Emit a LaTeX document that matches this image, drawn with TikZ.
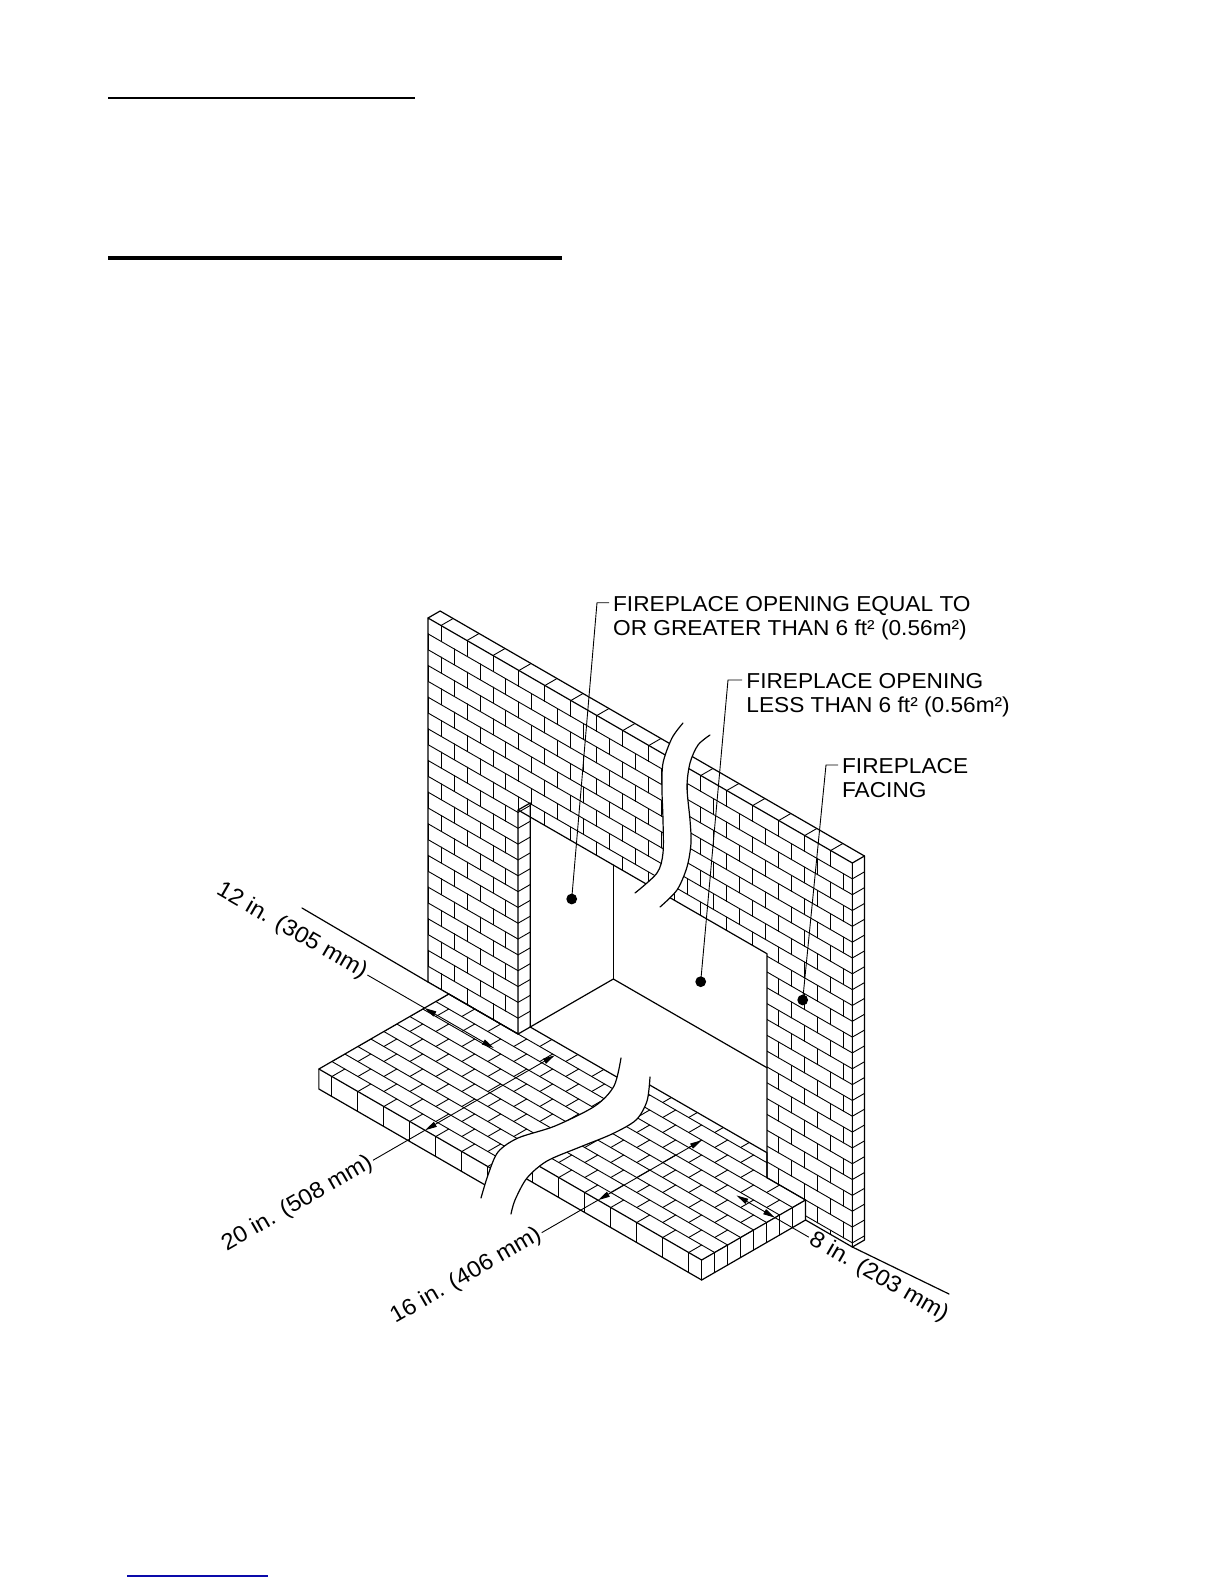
\documentclass[tikz,border=0pt]{standalone}
\usepackage{fontspec}
\setmainfont{Liberation Sans}
\newfontfamily\lblfont[FakeStretch=1.05]{Liberation Sans}
\usetikzlibrary{arrows.meta}
\definecolor{linkblue}{RGB}{10,10,170}
\begin{document}
\begin{tikzpicture}[x=0.5pt,y=-0.5pt,
  brick/.style={line width=0.45pt, line cap=round},
  outl/.style={line width=0.6pt, line join=round, line cap=round},
  leader/.style={line width=0.45pt},
  dimline/.style={line width=0.45pt},
  dimarrow/.style={>={Triangle[length=6pt,width=2.8pt]},<->},
  lbl/.style={font=\lblfont\fontsize{10.8}{12}\selectfont, inner sep=0pt},
  dimtext/.style={font=\lblfont\fontsize{11.4}{12}\selectfont, inner sep=1pt},
  leaderdot/.style={circle, fill=black, inner sep=0pt, minimum size=5.4pt},
  isoview/.style={x={(0.433pt,-0.25pt)}, y={(-0.433pt,-0.25pt)}, z={(0pt,0.5pt)}}
]
\useasboundingbox (0,0) rectangle (1224,1584);

% page rules
\draw[line width=1.3pt] (108,98) -- (415,98);
\draw[line width=1.9pt] (108,258) -- (562,258);
\draw[line width=0.8pt, linkblue] (127,1576) -- (268,1576);

\coordinate (floorL) at (302,908);
\coordinate (floorR) at (949,1294);

% ---------------- hearth, left piece ----------------
\begin{scope}
\clip (0,880) -- (626,880) -- plot[smooth] coordinates {(621,1058) (614,1086) (595,1106) (555,1126) (518,1138) (498,1152) (488,1175) (481,1198)} -- (481,1400) -- (0,1400) -- cycle;
\begin{scope}[shift={(428,982)}]\begin{scope}[isoview]
 \begin{scope}
  \clip (24,0,0) -- (104,0,0) -- (104,-14,0) -- (420,-14,0) -- (420,150,0) -- (24,150,0) -- cycle;
  \foreach \m in {-1,...,9} {
    \draw[brick] (0,{15*\m},0) -- (420,{15*\m},0);
    \pgfmathsetmacro\boff{mod(\m+100,2)==1 ? 15 : 0}
    \foreach \j in {0,...,13} {\draw[brick] ({24+\boff+30*\j},{15*\m},0) -- ({24+\boff+30*\j},{15*\m+15},0);}
  }
 \end{scope}
 \foreach \j in {0,...,12} {\draw[brick] ({39+30*\j},150,0) -- ({39+30*\j},150,-20);}
 \draw[outl] (104,0,0) -- (24,0,0) -- (24,150,0) -- (420,150,0);
 \draw[outl] (24,150,0) -- (24,150,-20) -- (420,150,-20);
 \draw[outl] (104,-14,0) -- (420,-14,0);
\end{scope}\end{scope}
\end{scope}

% ---------------- hearth, right piece ----------------
\begin{scope}
\clip (1224,880) -- (651,880) -- plot[smooth] coordinates {(650,1077) (647,1101) (636,1120) (612,1134) (580,1147) (547,1161) (527,1178) (515,1200) (511,1214)} -- (511,1400) -- (1224,1400) -- cycle;
\begin{scope}[shift={(428,982)}]\begin{scope}[isoview]
 \begin{scope}
  \clip (140,-25,0) -- (366.5,-25,0) -- (391.5,0,0) -- (436,0,0) -- (436,120,0) -- (140,120,0) -- cycle;
  \foreach \m in {-2,...,7} {
    \draw[brick] (140,{15*\m},0) -- (436,{15*\m},0);
    \pgfmathsetmacro\boff{mod(\m+100,2)==1 ? 15 : 0}
    \foreach \j in {0,...,10} {\draw[brick] ({436-\boff-30*\j},{15*\m},0) -- ({436-\boff-30*\j},{15*\m+15},0);}
  }
 \end{scope}
 \foreach \j in {0,...,9} {\draw[brick] ({421-30*\j},120,0) -- ({421-30*\j},120,-20);}
 \foreach \m in {1,...,7} {\draw[brick] (436,{15*\m},0) -- (436,{15*\m},-20);}
 \draw[outl] (140,-25,0) -- (366.5,-25,0) -- (391.5,0,0);
 \draw[outl] (140,120,0) -- (436,120,0) -- (436,0,0);
 \draw[outl] (140,120,-20) -- (436,120,-20) -- (436,0,-20);
 \draw[outl] (436,120,0) -- (436,120,-20);
 \draw[outl] (436,0,0) -- (436,0,-20);
\end{scope}\end{scope}
\end{scope}

% ---------------- wall ----------------
\begin{scope}[shift={(428,982)}]\begin{scope}[isoview]
 \begin{scope}
  \clip (0,0,0) -- (104,0,0) -- (104,0,224) -- (391.5,0,224) -- (391.5,0,0) -- (436,0,0) -- (436,0,-20) -- (490,0,-20) -- (490,0,364) -- (0,0,364) -- cycle;
  \foreach \k in {-2,...,22} {
    \pgfmathsetmacro\hb{\k*15.826}
    \pgfmathsetmacro\ht{(\k+1)*15.826}
    \draw[brick] (0,0,\hb) -- (490,0,\hb);
    \pgfmathsetmacro\boff{mod(\k+100,2)==0 ? 15 : 0}
    \foreach \j in {0,...,16} {\draw[brick] ({\boff+30*\j},0,\hb) -- ({\boff+30*\j},0,\ht);}
  }
 \end{scope}
 \foreach \j in {0,...,15} {\draw[brick] ({15+30*\j},0,364) -- ({15+30*\j},-14,364);}
 \foreach \k in {-1,...,22} {\draw[brick] (490,0,{\k*15.826}) -- (490,-14,{\k*15.826});}
 \foreach \k in {1,...,14} {\draw[brick] (104,0,{\k*15.826}) -- (104,-14,{\k*15.826});}
 \draw[outl] (0,0,0) -- (0,0,364) -- (490,0,364) -- (490,0,-20) -- (436,0,-20) -- (436,0,0) -- (391.5,0,0) -- (391.5,0,224) -- (104,0,224) -- (104,0,0) -- cycle;
 \draw[outl] (0,0,364) -- (0,-14,364) -- (490,-14,364) -- (490,0,364);
 \draw[outl] (490,-14,364) -- (490,-14,-20) -- (490,0,-20);
 \draw[outl] (104,0,0) -- (104,-14,0) -- (104,-14,224) -- (104,0,224);
 \draw[outl] (104,-14,0) -- (104,-110,0) -- (281.5,-110,0);
 \draw[outl] (104,-110,0) -- (104,-110,114);
 \draw[outl] (floorL) -- (0,0,0);
 \draw[outl] (490,0,-20) -- (floorR);
\end{scope}\end{scope}

% ---------------- break in the wall ----------------
\fill[white] plot[smooth] coordinates {(683,723) (672,738) (663,763) (662,790) (663,820) (663,853) (657,873) (635,893)} -- plot[smooth] coordinates {(660,907) (677,890) (687,867) (691,843) (690,820) (687,787) (690,763) (698,745) (710,735)} -- cycle;
\draw[outl] plot[smooth] coordinates {(683,723) (672,738) (663,763) (662,790) (663,820) (663,853) (657,873) (635,893)};
\draw[outl] plot[smooth] coordinates {(710,735) (698,745) (690,763) (687,787) (690,820) (691,843) (687,867) (677,890) (660,907)};
\draw[outl] plot[smooth] coordinates {(621,1058) (614,1086) (595,1106) (555,1126) (518,1138) (498,1152) (488,1175) (481,1198)};
\draw[outl] plot[smooth] coordinates {(650,1077) (647,1101) (636,1120) (612,1134) (580,1147) (547,1161) (527,1178) (515,1200) (511,1214)};

% ---------------- dimensions ----------------
\begin{scope}[shift={(428,982)}]\begin{scope}[isoview]
 \draw[dimline, dimarrow] (24,28,0) -- (104,28,0);
 \draw[dimline] (24,28,0) -- (-42,28,0);
 \node[dimtext, anchor=east, rotate=-30] (t12) at (-42,28,0) {12 in. (305 mm)};

 \draw[dimline, dimarrow] (146.5,150,0) -- (146.5,0,0);
 \draw[dimline] (146.5,150,0) -- (146.5,210,0);
 \node[dimtext, anchor=east, rotate=30] (t20) at (146.5,210,0) {20 in. (508 mm)};

 \draw[dimline, dimarrow] (316.3,120,0) -- (316.3,0,0);
 \draw[dimline] (316.3,120,0) -- (316.3,185,0);
 \node[dimtext, anchor=east, rotate=30] (t16) at (316.3,185,0) {16 in. (406 mm)};

 \draw[dimline, dimarrow] (391.5,35.3,0) -- (436,35.3,0);
 \draw[dimline] (436,35.3,0) -- (475,35.3,0);
 \node[dimtext, anchor=west, rotate=-30] (t8) at (475,35.3,0) {8 in. (203 mm)};
\end{scope}\end{scope}

% ---------------- labels ----------------
\node[leaderdot] (d1) at (571.7,899) {};
\node[leaderdot] (d2) at (700.7,981.7) {};
\node[leaderdot] (d3) at (802.7,1000) {};
\coordinate (k1a) at (597,602.7);
\coordinate (k1b) at (609,602.7);
\coordinate (k2a) at (728,680);
\coordinate (k2b) at (742,680);
\coordinate (k3a) at (826,765);
\coordinate (k3b) at (838,765);
\draw[leader] (d1.center) -- (k1a) -- (k1b);
\draw[leader] (d2.center) -- (k2a) -- (k2b);
\draw[leader] (d3.center) -- (k3a) -- (k3b);

\node[lbl, anchor=base west] (l1a) at (612.7,611.4) {FIREPLACE OPENING EQUAL TO};
\node[lbl, anchor=base west] (l1b) at (612.7,635.4) {OR GREATER THAN 6 ft² (0.56m²)};
\node[lbl, anchor=base west] (l2a) at (746,688.3) {FIREPLACE OPENING};
\node[lbl, anchor=base west] (l2b) at (746,712.3) {LESS THAN 6 ft² (0.56m²)};
\node[lbl, anchor=base west] (l3a) at (841.7,773.3) {FIREPLACE};
\node[lbl, anchor=base west] (l3b) at (841.7,797.3) {FACING};
\end{tikzpicture}
\end{document}
